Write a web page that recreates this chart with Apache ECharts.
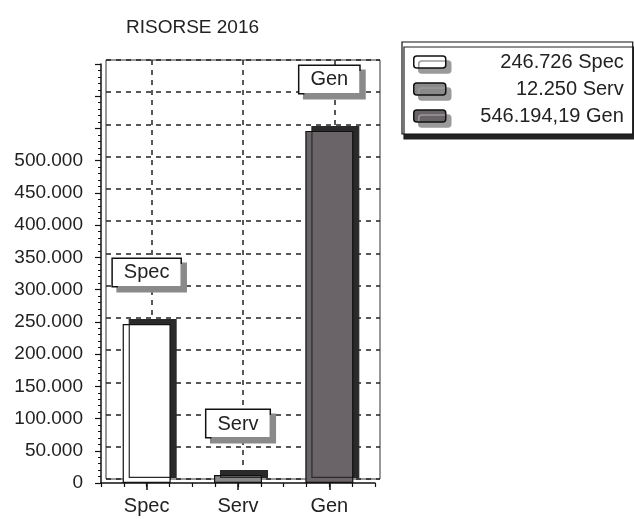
<!DOCTYPE html>
<html><head><meta charset="utf-8">
<script src="https://cdn.jsdelivr.net/npm/echarts@6/dist/echarts.min.js"></script>
<style>html,body{margin:0;padding:0;background:#fff}#c{width:634px;height:519px}</style>
</head><body><div id="c"></div>
<script>
const titleText = 'RISORSE 2016';
const categories = ['Spec', 'Serv', 'Gen'];
const values = [246726, 12250, 546194.19];
const legendValues = ['246.726', '12.250', '546.194,19'];
const yMin = 0, yMax = 650000, yStep = 50000, yLabelMax = 500000;
const colors = ['#ffffff', '#8a8a8a', '#6a6468'];

const FONT = 'Liberation Sans, Arial, sans-serif';
function fmt(v) { return String(v).replace(/\B(?=(\d{3})+(?!\d))/g, '.'); }
const dash = { color: '#222', width: 1.5, type: [5, 5] };

const chart = echarts.init(document.getElementById('c'));
chart.setOption({
  animation: false,
  textStyle: { fontFamily: FONT },
  title: { text: titleText, left: 126, top: 18, padding: 0,
    textStyle: { fontSize: 19, fontWeight: 'normal', color: '#222', fontFamily: FONT } },
  legend: {
    orient: 'vertical', left: 402, top: 42,
    padding: [10, 9, 8, 11], itemGap: 7, itemWidth: 32, itemHeight: 12,
    icon: 'roundRect',
    backgroundColor: '#fff', borderColor: '#111', borderWidth: 1.2,
    shadowColor: '#222', shadowOffsetX: 2, shadowOffsetY: 5, shadowBlur: 0,
    data: categories,
    itemStyle: { borderColor: '#111', borderWidth: 1.5, shadowColor: '#9a9a9a', shadowOffsetX: 5, shadowOffsetY: 5, shadowBlur: 0 },
    formatter: function (name) {
      const i = categories.indexOf(name);
      return '{t|' + legendValues[i] + ' ' + name + '}';
    },
    textStyle: { rich: { t: { width: 173, align: 'right', fontSize: 20, lineHeight: 22, color: '#222', fontFamily: FONT } } }
  },
  grid: [
    { left: 101, right: 259, top: 64, bottom: 36 },
    { left: 106, right: 254, top: 60, bottom: 40, show: true, borderColor: '#333', borderWidth: 1 }
  ],
  xAxis: [
    { type: 'category', gridIndex: 0, data: categories, position: 'bottom',
      axisLine: { show: true, lineStyle: { color: '#111', width: 1.5 } },
      axisTick: { show: true, alignWithLabel: true, length: 7, lineStyle: { color: '#111', width: 1.5 } },
      axisLabel: { fontSize: 20, margin: 13, color: '#222', fontFamily: FONT },
      splitLine: { show: false } },
    { type: 'value', gridIndex: 0, min: 0, max: 12, interval: 1, position: 'bottom', offset: 0,
      axisLine: { show: false }, axisLabel: { show: false }, splitLine: { show: false },
      axisTick: { show: true, length: 4, lineStyle: { color: '#111', width: 1.2 } } },
    { type: 'category', gridIndex: 1, data: categories,
      axisLine: { show: false }, axisTick: { show: false }, axisLabel: { show: false },
      splitLine: { show: true, alignWithLabel: true, lineStyle: dash } }
  ],
  yAxis: [
    { type: 'value', gridIndex: 0, min: yMin, max: yMax, interval: yStep,
      axisLine: { show: true, lineStyle: { color: '#111', width: 1.5 } },
      axisTick: { show: true, length: 6, lineStyle: { color: '#111', width: 1.2 } },
      minorTick: { show: true, splitNumber: 5, length: 3, lineStyle: { color: '#111', width: 1 } },
      axisLabel: { fontSize: 19, margin: 18, color: '#222', fontFamily: FONT,
        formatter: v => (v <= yLabelMax ? fmt(v) : '') },
      splitLine: { show: false } },
    { type: 'value', gridIndex: 1, min: yMin, max: yMax, interval: yStep,
      axisLine: { show: false }, axisTick: { show: false }, axisLabel: { show: false },
      splitLine: { show: true, lineStyle: dash } }
  ],
  series: categories.map((c, i) => ({
    name: c, type: 'bar', xAxisIndex: 0, yAxisIndex: 0,
    barWidth: 48, barGap: '-100%',
    data: categories.map((_, j) => (j === i ? values[i] : null)),
    itemStyle: { color: colors[i], borderColor: '#111', borderWidth: 1.2,
      shadowColor: '#2a2a2a', shadowOffsetX: 6, shadowOffsetY: -5, shadowBlur: 0 },
    label: { show: true, position: 'top', distance: 38, formatter: c,
      fontSize: 20, lineHeight: 20, color: '#222', fontFamily: FONT,
      backgroundColor: '#fff', borderColor: '#111', borderWidth: 1.5,
      padding: [4, 11, 3, 11],
      shadowColor: '#8a8a8a', shadowOffsetX: 5, shadowOffsetY: 5, shadowBlur: 0 }
  }))
});
</script></body></html>
